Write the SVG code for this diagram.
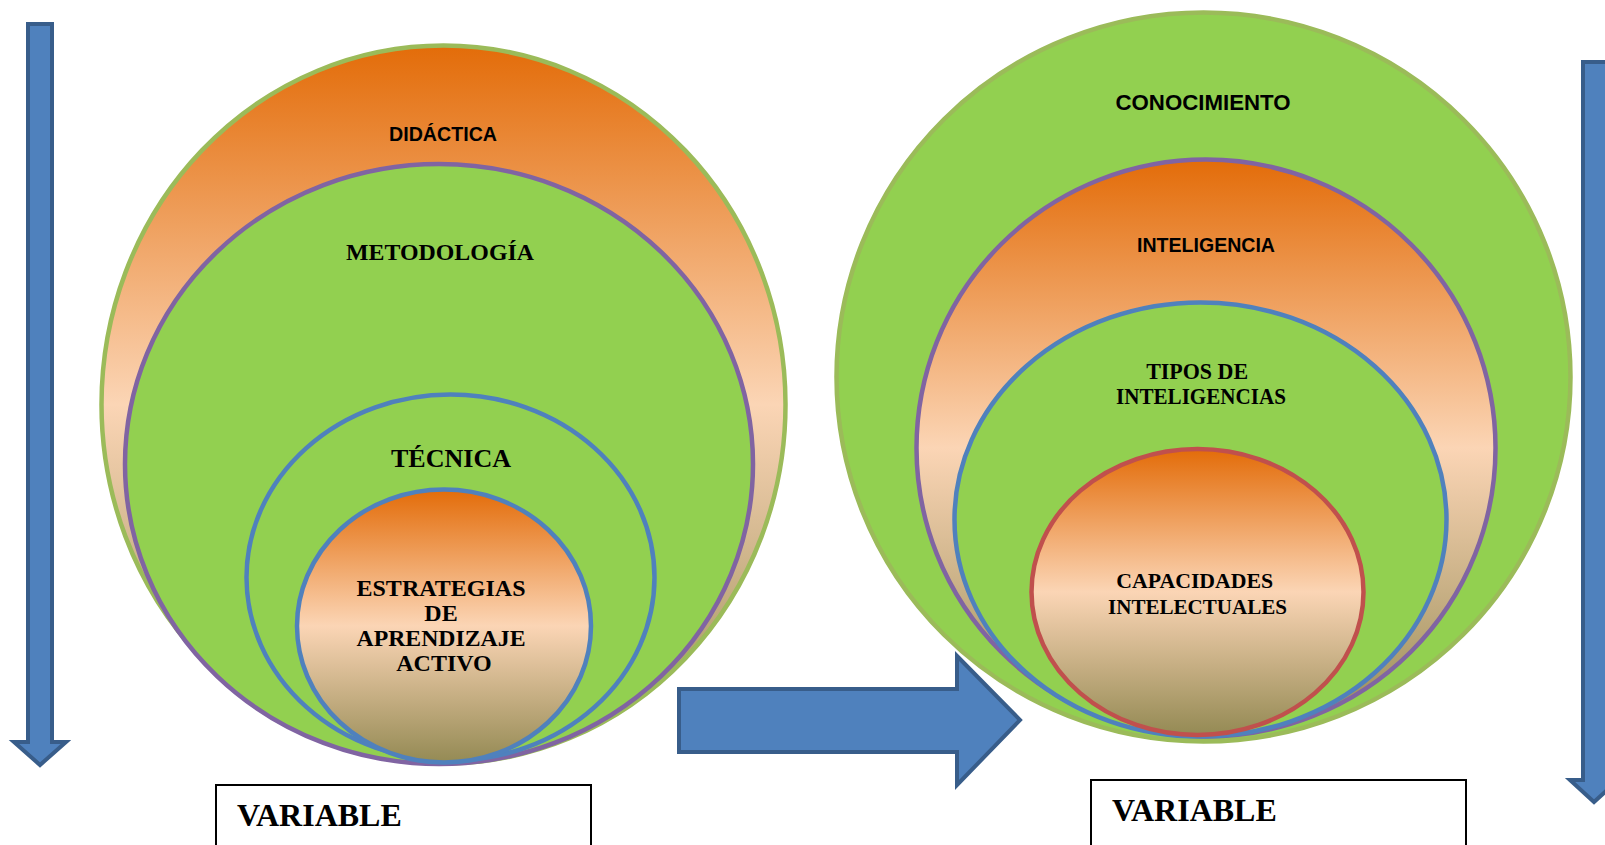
<svg xmlns="http://www.w3.org/2000/svg" width="1605" height="845" viewBox="0 0 1605 845">
<defs>
<linearGradient id="peach" x1="0" y1="0" x2="0" y2="1">
<stop offset="0" stop-color="#E36C09"/>
<stop offset="0.5" stop-color="#FBD5B5"/>
<stop offset="1" stop-color="#948A54"/>
</linearGradient>
<style>
.outer{stroke:#9BBB59;stroke-width:4.5}
.purple{stroke:#8064A2;stroke-width:4.5}
.blue{stroke:#4F81BD;stroke-width:4.5}
.red{stroke:#C0504D;stroke-width:4.5}
.green{fill:#92D050}
.grad{fill:url(#peach)}
.arrow{fill:#4F81BD;stroke:#385D8A;stroke-width:4;stroke-linejoin:miter}
.box{fill:#FFFFFF;stroke:#000000;stroke-width:2}
.sans{font-family:"Liberation Sans",Arial,sans-serif;font-weight:bold;fill:#000;text-anchor:middle}
.serif{font-family:"Liberation Serif","Times New Roman",serif;font-weight:bold;fill:#000;text-anchor:middle}
.var{font-family:"Liberation Serif","Times New Roman",serif;font-weight:bold;fill:#000;font-size:32px}
</style>
</defs>
<rect width="1605" height="845" fill="#FFFFFF"/>

<g id="didactica">
<ellipse cx="443.5" cy="404.5" rx="342" ry="359" class="grad outer"/>
<text x="443" y="141" class="sans" font-size="20" textLength="108" lengthAdjust="spacingAndGlyphs">DIDÁCTICA</text>
</g>
<g id="metodologia">
<ellipse cx="439" cy="464" rx="314" ry="300" class="green purple"/>
<text x="440" y="260" class="serif" font-size="24" textLength="188" lengthAdjust="spacingAndGlyphs">METODOLOGÍA</text>
</g>
<g id="tecnica">
<ellipse cx="450.5" cy="577.5" rx="204" ry="183" class="green blue"/>
<text x="451" y="467" class="serif" font-size="26" textLength="120" lengthAdjust="spacingAndGlyphs">TÉCNICA</text>
</g>
<g id="estrategias">
<ellipse cx="444" cy="626" rx="147" ry="136.5" class="grad blue"/>
<text class="serif" font-size="24">
<tspan x="444" y="596" textLength="169" lengthAdjust="spacingAndGlyphs">ESTRATEGIAS</tspan>
<tspan x="444" y="621">DE</tspan>
<tspan x="444" y="646" textLength="169" lengthAdjust="spacingAndGlyphs">APRENDIZAJE</tspan>
<tspan x="444" y="671">ACTIVO</tspan>
</text>
</g>

<g id="conocimiento">
<ellipse cx="1203.5" cy="377" rx="367" ry="364.5" class="green outer"/>
<text x="1203" y="110" class="sans" font-size="22" textLength="175" lengthAdjust="spacingAndGlyphs">CONOCIMIENTO</text>
</g>
<g id="inteligencia">
<ellipse cx="1206" cy="448" rx="289.5" ry="288.5" class="grad purple"/>
<text x="1206" y="252" class="sans" font-size="20" textLength="138" lengthAdjust="spacingAndGlyphs">INTELIGENCIA</text>
</g>
<g id="tipos">
<ellipse cx="1200.5" cy="519.5" rx="246" ry="217" class="green blue"/>
<text class="serif" font-size="23">
<tspan x="1200" y="379" textLength="102" lengthAdjust="spacingAndGlyphs">TIPOS DE</tspan>
<tspan x="1201" y="404" textLength="170" lengthAdjust="spacingAndGlyphs">INTELIGENCIAS</tspan>
</text>
</g>
<g id="capacidades">
<ellipse cx="1197.5" cy="592" rx="166" ry="143" class="grad red"/>
<text class="serif" font-size="22">
<tspan x="1197.5" y="588" textLength="157" lengthAdjust="spacingAndGlyphs">CAPACIDADES</tspan>
<tspan x="1197.5" y="614" textLength="179" lengthAdjust="spacingAndGlyphs">INTELECTUALES</tspan>
</text>
</g>

<g id="connectors">
<path class="arrow" d="M28,24 H52 V742 H66 L40,765 L14,742 H28 Z"/>
<path class="arrow" d="M679,689 H957 V656 L1020,720 L957,785 V752 H679 Z"/>
<path class="arrow" d="M1583,62 H1607 V780 H1618 L1594,802 L1570,780 H1583 Z"/>
</g>

<g id="variable-left">
<rect x="216" y="785" width="375" height="80" class="box"/>
<text x="237" y="826" class="var">VARIABLE</text>
</g>
<g id="variable-right">
<rect x="1091" y="780" width="375" height="80" class="box"/>
<text x="1112" y="821" class="var">VARIABLE</text>
</g>
</svg>
